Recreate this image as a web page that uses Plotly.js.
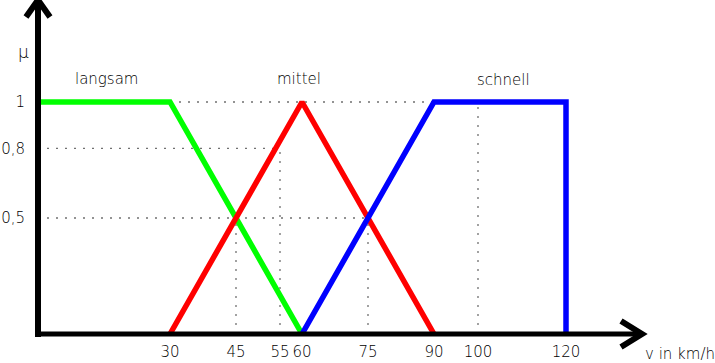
<!DOCTYPE html>
<html>
<head>
<meta charset="utf-8">
<script src="https://cdn.plot.ly/plotly-3.0.1.min.js"></script>
<style>html,body{margin:0;padding:0;background:#fff;}#chart{width:715px;height:363px;}</style>
</head>
<body>
<div id="chart"></div>
<script>
// ---- data ----
const setNames = ["langsam", "mittel", "schnell"];
const langsamX = [0, 30, 60];
const langsamY = [1, 1, 0];
const mittelX = [30, 60, 90];
const mittelY = [0, 1, 0];
const schnellX = [60, 90, 120, 120];
const schnellY = [0, 1, 1, 0];
const xTickVals = [30, 45, 55, 60, 75, 90, 100, 120];
const xTickText = ["30", "45", "55", "60", "75", "90", "100", "120"];
const yTickVals = [0.5, 0.8, 1];
const yTickText = ["0,5", "0,8", "1"];
// helper (dotted) reference lines: [x0, y0, x1, y1]
const guideLines = [
  [30, 1, 90, 1],
  [0, 0.8, 55, 0.8],
  [55, 0, 55, 0.8],
  [0, 0.5, 75, 0.5],
  [45, 0, 45, 0.5],
  [75, 0, 75, 0.5],
  [100, 0, 100, 1]
];
const yAxisLabel = "μ";
const xAxisLabel = "v in km/h";

// ---- drawing ----
const FONT = {family: "DejaVu Sans, Liberation Sans, sans-serif", size: 15, color: "#000", weight: 200};
const traces = [];
guideLines.forEach(g => {
  traces.push({x: [g[0], g[2]], y: [g[1], g[3]], mode: "lines", hoverinfo: "skip", showlegend: false,
    line: {color: "#707070", width: 1.3, dash: "2px,7px"}});
});
const colors = ["#00ff00", "#ff0000", "#0000ff"];
[[langsamX, langsamY], [mittelX, mittelY], [schnellX, schnellY]].forEach((d, i) => {
  traces.push({x: d[0], y: d[1], mode: "lines", name: setNames[i], showlegend: false,
    line: {color: colors[i], width: 5.5}});
});

const L = 38, B = 29, W = 715, H = 363;
const pw = W - L, ph = H - B;
const pxX = 4.4, pxY = 232;
const px2paperX = p => (p - L) / pw;
const px2paperY = p => (H - B - p) / ph;

const labelPos = [[15.7, 1.10], [59.3, 1.10], [105.9, 1.095]];
const annotations = setNames.map((n, i) => ({
  x: labelPos[i][0], y: labelPos[i][1], xref: "x", yref: "y", xanchor: "center", yanchor: "middle",
  text: n, showarrow: false, font: FONT
}));
annotations.push({x: px2paperX(23), y: px2paperY(52), xref: "paper", yref: "paper", xanchor: "center", yanchor: "middle",
  text: yAxisLabel, showarrow: false, font: Object.assign({}, FONT, {size: 17})});
annotations.push({x: px2paperX(680), y: px2paperY(354), xref: "paper", yref: "paper", xanchor: "center", yanchor: "middle",
  text: xAxisLabel, showarrow: false, font: FONT});

const shapes = [
  {type: "line", xref: "paper", yref: "paper", x0: 0, x1: 0, y0: px2paperY(337), y1: 1, line: {color: "#000", width: 6}},
  {type: "line", xref: "paper", yref: "paper", x0: px2paperX(35), x1: px2paperX(640), y0: 0, y1: 0, line: {color: "#000", width: 5}},
  {type: "path", xref: "paper", yref: "paper",
    path: `M${px2paperX(26)},${px2paperY(17)} L0,1 L${px2paperX(50)},${px2paperY(17)}`, line: {color: "#000", width: 6}},
  {type: "path", xref: "paper", yref: "paper",
    path: `M${px2paperX(621)},${px2paperY(321)} L${px2paperX(642)},0 L${px2paperX(621)},${px2paperY(347)}`, line: {color: "#000", width: 6}}
];

const layout = {
  width: W, height: H,
  margin: {l: L, r: 0, t: 0, b: B, pad: 0},
  paper_bgcolor: "#fff", plot_bgcolor: "#fff",
  showlegend: false,
  font: FONT,
  xaxis: {range: [0, pw / pxX], showgrid: false, zeroline: false, showline: false,
    tickvals: xTickVals, ticktext: xTickText, tickangle: 0, ticks: "outside", ticklen: 4, tickcolor: "rgba(0,0,0,0)",
    tickfont: FONT, fixedrange: true},
  yaxis: {range: [0, ph / pxY], showgrid: false, zeroline: false, showline: false,
    tickvals: yTickVals, ticktext: yTickText, ticks: "outside", ticklen: 9, tickcolor: "rgba(0,0,0,0)",
    tickfont: FONT, fixedrange: true},
  annotations: annotations,
  shapes: shapes
};
Plotly.newPlot("chart", traces, layout, {staticPlot: true, displayModeBar: false});
</script>
</body>
</html>
